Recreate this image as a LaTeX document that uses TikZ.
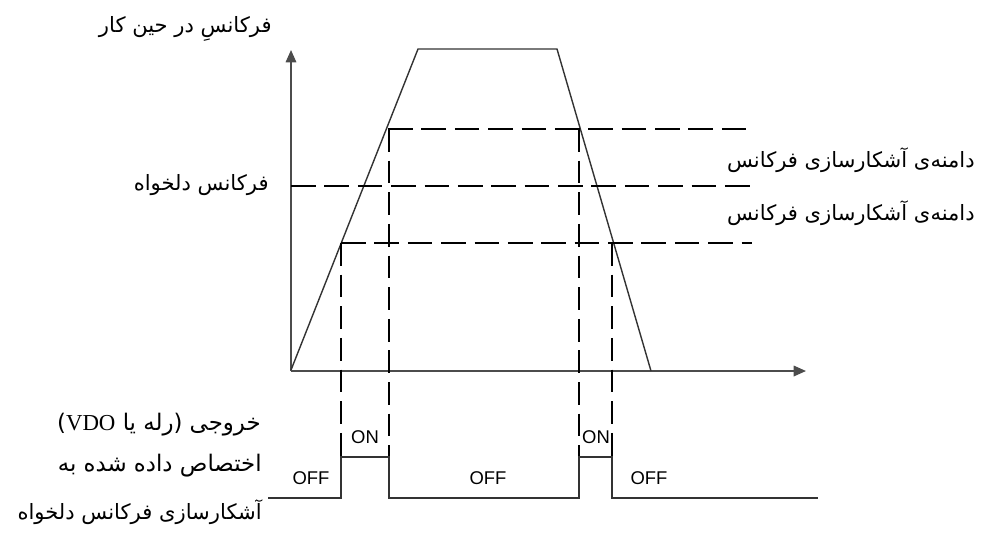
\documentclass[tikz,border=0pt]{standalone}
\usepackage{fontspec}
\setmainfont{Liberation Sans}
\newfontfamily\arabicfont[Script=Arabic]{DejaVu Sans}
\newfontfamily\vdofont{Liberation Serif}
\TeXXeTstate=1
\usetikzlibrary{arrows.meta}

\begin{document}
\begin{tikzpicture}[x = 0.02cm, y = -0.02cm]
\tikzstyle{AxisStyle}=[draw = black!70,
                       line width = 0.9pt,
                       -{Triangle[length = 7pt, width = 6pt]}]
\tikzstyle{CurveStyle}=[draw = black!80, line width = 0.8pt]
\tikzstyle{LevelStyle}=[draw = black, line width = 1.6pt,
                        dash pattern = on 14pt off 5pt]
\tikzstyle{DropStyle}=[draw = black, line width = 1.5pt,
                       dash pattern = on 13pt off 5pt]
\tikzstyle{FaLabel}=[inner sep = 0pt, anchor = east,
                     font = \arabicfont\fontsize{12}{14}\selectfont]
\tikzstyle{FaNote}=[FaLabel,
                    font = \arabicfont\fontsize{13}{15}\selectfont]
\tikzstyle{StateLabel}=[inner sep = 0pt,
                        font = \fontsize{10.5}{12}\selectfont]
\useasboundingbox (0, 0) rectangle (982, 545);
\coordinate (o)  at (291, 371);
\coordinate (ya) at (291, 50);
\coordinate (xa) at (806, 371);
\coordinate (p0) at (291, 370);
\coordinate (p1) at (418, 49);
\coordinate (p2) at (557, 49);
\coordinate (p3) at (651, 371);
\draw[AxisStyle] (o) -- (ya);
\draw[AxisStyle] (o) -- (xa);
\draw[CurveStyle] (p0) -- (p1) -- (p2) -- (p3);
\draw[LevelStyle] (388, 129) -- (748, 129);
\draw[LevelStyle] (291, 186) -- (750, 186);
\draw[LevelStyle] (341, 243) -- (752, 243);
\draw[DropStyle] (341, 243) -- (341, 497);
\draw[DropStyle] (389, 129) -- (389, 497);
\draw[DropStyle] (579, 129) -- (579, 497);
\draw[DropStyle] (612, 243) -- (612, 497);
\draw[CurveStyle] (268, 498) -- (341, 498) -- (341, 457) -- (389, 457)
   -- (389, 498) -- (579, 498) -- (579, 457) -- (612, 457) -- (612, 498)
   -- (818, 498);
\node[StateLabel] (off0) at (311, 478) {OFF};
\node[StateLabel] (on0)  at (365, 437) {ON};
\node[StateLabel] (off1) at (488, 478) {OFF};
\node[StateLabel] (on1)  at (596, 437) {ON};
\node[StateLabel] (off2) at (649, 478) {OFF};
\node[FaLabel] (run)  at (272, 29)  {\beginR فرکانسِ در حین کار\endR};
\node[FaLabel] (set)  at (269, 185) {\beginR فرکانس دلخواه\endR};
\node[FaLabel] (hi)   at (975, 160) {\beginR دامنه‌ی آشکارسازی فرکانس\endR};
\node[FaLabel] (lo)   at (975, 213) {\beginR دامنه‌ی آشکارسازی فرکانس\endR};
\node[FaNote] (out0) at (261, 425) {\beginR خروجی (رله یا \beginL{\vdofont VDO}\endL)\endR};
\node[FaNote] (out1) at (262, 466) {\beginR اختصاص داده شده به\endR};
\node[FaLabel] (out2) at (262, 512) {\beginR آشکارسازی فرکانس دلخواه\endR};
\end{tikzpicture}
\end{document}
